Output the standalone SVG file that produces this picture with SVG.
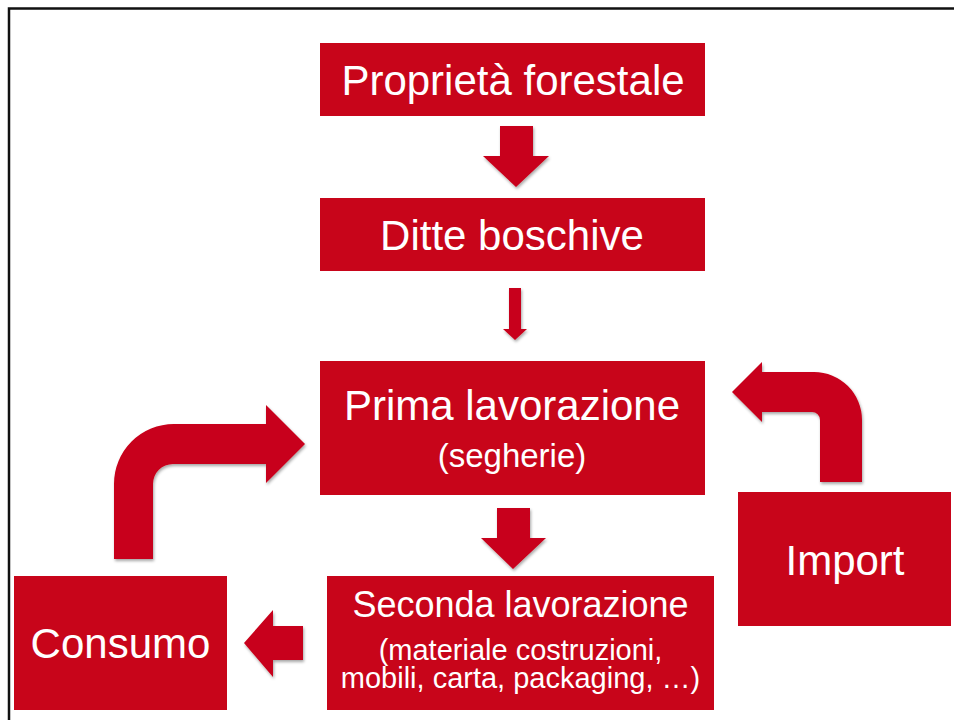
<svg xmlns="http://www.w3.org/2000/svg" width="954" height="720" viewBox="0 0 954 720">
<style>
.box{fill:#C8051A}
.arrow{fill:#C8051A;filter:url(#sh)}
text{font-family:"Liberation Sans",Arial,sans-serif;fill:#FFFFFF;text-anchor:middle}
.t42{font-size:42px}
.t36{font-size:36px}
.t33{font-size:33px}
.t29{font-size:29px}
</style>
<defs>
<filter id="sh" x="-20%" y="-20%" width="140%" height="140%">
<feDropShadow dx="1" dy="2" stdDeviation="1.5" flood-color="#000" flood-opacity="0.35"/>
</filter>
</defs>
<rect width="954" height="720" fill="#FFFFFF"/>
<path d="M9,720 V8.5 H954" fill="none" stroke="#111" stroke-width="2.5"/>
<g id="connectors">
<path class="arrow" d="M500,126 H533 V156 H549 L516,187 L483,156 H500 Z"/>
<path class="arrow" d="M509,288 H521 V329 H527 L515,340 L503,329 H509 Z"/>
<path class="arrow" d="M497,508 H530 V538 H546 L513,569 L481,538 H497 Z"/>
<path class="arrow" d="M244,643 L273,610 V626 H303 V660 H273 V677 Z"/>
<path class="arrow" d="M114,559 V484 A60,60 0 0 1 174,424 H266 V405 L305,444 L266,483 V464 H173 A20,20 0 0 0 153,484 V559 Z"/>
<path class="arrow" d="M732,392 L762,362 V372 H814 A48,48 0 0 1 862,420 V482 H820 V420 A8,8 0 0 0 812,412 H762 V422 Z"/>
</g>
<g id="proprieta">
<rect class="box" x="320" y="43" width="385" height="73"/>
<text class="t42" x="513" y="95">Proprietà forestale</text>
</g>
<g id="ditte">
<rect class="box" x="320" y="198" width="385" height="73"/>
<text class="t42" x="512" y="250">Ditte boschive</text>
</g>
<g id="prima">
<rect class="box" x="320" y="361" width="385" height="134"/>
<text class="t42" x="512" y="420">Prima lavorazione</text>
<text class="t33" x="512" y="467">(segherie)</text>
</g>
<g id="seconda">
<rect class="box" x="327" y="576" width="387" height="134"/>
<text class="t36" x="520.5" y="617">Seconda lavorazione</text>
<text class="t29" x="520.5" y="660">(materiale costruzioni,</text>
<text class="t29" x="520.5" y="688">mobili, carta, packaging, …)</text>
</g>
<g id="consumo">
<rect class="box" x="14" y="576" width="213" height="134"/>
<text class="t42" x="120.5" y="658">Consumo</text>
</g>
<g id="import">
<rect class="box" x="738" y="492" width="213" height="134"/>
<text class="t42" x="845" y="575">Import</text>
</g>
</svg>
